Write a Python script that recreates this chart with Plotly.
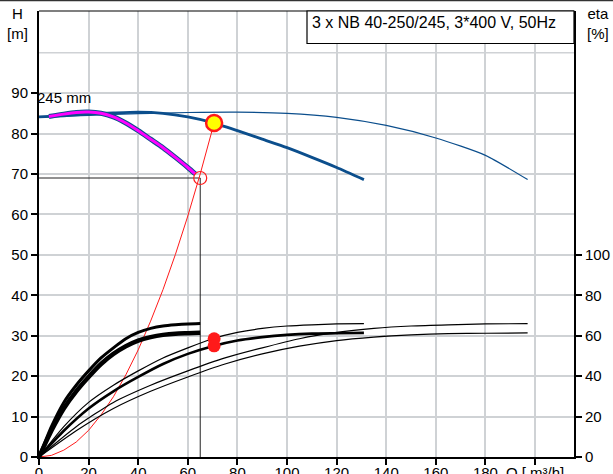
import plotly.graph_objects as go

# ---- pump head curves, Q [m3/h] vs H [m] ----
q_one = [4, 10, 15, 20, 25, 30, 35, 40, 45, 50, 55, 60, 63]
h_one = [84.2, 84.8, 85.2, 85.3, 85.0, 84.1, 82.6, 80.7, 78.6, 76.5, 74.1, 71.6, 70.0]

q_two = [0, 10, 20, 30, 40, 50, 60, 70, 80, 90, 100, 110, 120, 131]
h_two = [84.1, 84.4, 84.8, 85.1, 85.3, 85.0, 84.1, 82.7, 80.7, 78.6, 76.5, 74.1, 71.6, 68.6]

q_three = [0, 20, 40, 60, 80, 100, 120, 140, 160, 180, 197]
h_three = [84.1, 84.5, 84.9, 85.2, 85.3, 85.0, 84.0, 82.0, 78.9, 74.6, 68.6]

# ---- efficiency curves, Q [m3/h] vs eta [%] ----
q_eta_one = [0, 5, 10, 15, 20, 25, 30, 35, 40, 45, 50, 55, 60, 65]
eta_one_a = [0, 15, 27, 35.5, 42.6, 49, 54, 58.5, 61.6, 63.6, 64.8, 65.4, 65.8, 66.0]
eta_one_b = [0, 13, 24, 32.5, 39.6, 46, 51, 54.8, 57.6, 59.3, 60.4, 61.0, 61.2, 61.4]

q_eta_two = [0, 10, 20, 30, 40, 50, 60, 70, 80, 90, 100, 110, 120, 131]
eta_two_a = [0, 15, 27, 35.5, 42.6, 49, 54, 58.5, 61.6, 63.6, 64.8, 65.4, 65.8, 66.0]
eta_two_b = [0, 13, 24, 32.5, 39.6, 46, 51, 54.8, 57.6, 59.3, 60.4, 61.0, 61.2, 61.4]

q_eta_three = [0, 15, 30, 45, 60, 75, 90, 105, 120, 135, 150, 165, 180, 197]
eta_three_a = [0, 15, 27, 35.5, 42.6, 49, 54, 58.5, 61.6, 63.6, 64.8, 65.4, 65.8, 66.0]
eta_three_b = [0, 13, 24, 32.5, 39.6, 46, 51, 54.8, 57.6, 59.3, 60.4, 61.0, 61.2, 61.4]

# ---- system curve ----
q_sys = [0, 5, 10, 15, 20, 25, 30, 35, 40, 45, 50, 55, 60, 65, 70.6]
h_sys = [0, 0.4, 1.7, 3.7, 6.6, 10.4, 14.9, 20.3, 26.5, 33.6, 41.4, 50.1, 59.6, 70.0, 82.6]

# ---- duty points ----
duty_q = [70.6]
duty_h = [82.6]
duty_eta = [58.5, 55.0]
single_q = [65]
single_h = [69]

# ---- axis ticks ----
x_ticks = [0, 20, 40, 60, 80, 100, 120, 140, 160, 180, 200]
x_labels = ["0", "20", "40", "60", "80", "100", "120", "140", "160", "180", "Q [ m³/h]"]
h_ticks = [0, 10, 20, 30, 40, 50, 60, 70, 80, 90]
eta_ticks = [0, 20, 40, 60, 80, 100]

title_text = "3 x NB 40-250/245, 3*400 V, 50Hz"
impeller_text = "245 mm"

X_MAX = 215.7
H_MAX = 110.3

FONT = "Liberation Sans, Arial, sans-serif"
BLUE = "#0b4e8c"
GRID = "#cfd2d5"

PLOT_W = 535
PLOT_H = 446

fig = go.Figure()

def eta_line(q, e, w):
    fig.add_trace(go.Scatter(x=q, y=e, yaxis="y2", mode="lines",
                             line=dict(color="black", width=w, shape="spline", smoothing=0.6),
                             hoverinfo="skip"))

eta_line(q_eta_three, eta_three_a, 1.2)
eta_line(q_eta_three, eta_three_b, 1.2)
eta_line(q_eta_two, eta_two_a, 1.2)
eta_line(q_eta_two, eta_two_b, 2.6)
eta_line(q_eta_one, eta_one_a, 3)
eta_line(q_eta_one, eta_one_b, 4.5)

# head curves
fig.add_trace(go.Scatter(x=q_three, y=h_three, mode="lines",
                         line=dict(color=BLUE, width=1.2, shape="spline", smoothing=0.6)))
fig.add_trace(go.Scatter(x=q_two, y=h_two, mode="lines",
                         line=dict(color=BLUE, width=2.8, shape="spline", smoothing=0.6)))
fig.add_trace(go.Scatter(x=q_one, y=h_one, mode="lines",
                         line=dict(color=BLUE, width=5, shape="spline", smoothing=0.6)))
fig.add_trace(go.Scatter(x=q_one, y=h_one, mode="lines",
                         line=dict(color="#ff00ff", width=3, shape="spline", smoothing=0.6)))

# guide lines to the single-pump point
fig.add_trace(go.Scatter(x=[0, single_q[0], single_q[0]], y=[single_h[0], single_h[0], 0],
                         mode="lines", line=dict(color="#222222", width=1)))

# system curve
fig.add_trace(go.Scatter(x=q_sys, y=h_sys, mode="lines",
                         line=dict(color="#ff1a1a", width=1)))

# duty points
fig.add_trace(go.Scatter(x=single_q, y=single_h, mode="markers",
                         marker=dict(symbol="circle-open", size=13, color="#ff1a1a",
                                     line=dict(width=1.2, color="#ff1a1a"))))
fig.add_trace(go.Scatter(x=duty_q, y=duty_h, mode="markers",
                         marker=dict(symbol="circle", size=16, color="#ffff00",
                                     line=dict(width=2.5, color="#ff1a1a"))))
fig.add_trace(go.Scatter(x=duty_q * len(duty_eta), y=duty_eta, yaxis="y2", mode="markers",
                         marker=dict(symbol="circle", size=13, color="#ff1a1a",
                                     line=dict(width=0))))

axis_common = dict(
    showline=True, linecolor="black", linewidth=2,
    ticks="outside", ticklen=6, tickwidth=2, tickcolor="black",
    tickfont=dict(family=FONT, size=15, color="black"),
    zeroline=False, fixedrange=True, automargin=False,
)

fig.update_layout(
    width=613, height=474, autosize=False,
    margin=dict(l=39, r=39, t=11, b=17, pad=0),
    paper_bgcolor="white", plot_bgcolor="white",
    showlegend=False,
    xaxis=dict(range=[0, X_MAX], tickmode="array", tickvals=x_ticks, ticktext=x_labels,
               showgrid=True, gridcolor=GRID, gridwidth=1.5, ticklabelstandoff=-5,
               **axis_common),
    yaxis=dict(range=[0, H_MAX], tickmode="array", tickvals=h_ticks,
               showgrid=True, gridcolor=GRID, gridwidth=1.5, **axis_common),
    yaxis2=dict(range=[0, 2 * H_MAX], overlaying="y", side="right", anchor="x",
                tickmode="array", tickvals=eta_ticks, showgrid=False, **axis_common),
    shapes=[
        # grid line at H = 100 (no label there)
        dict(type="line", xref="paper", yref="y", x0=0, x1=1, y0=100, y1=100,
             line=dict(color=GRID, width=1.5), layer="below"),
        # top frame of the plot area
        dict(type="line", xref="paper", yref="paper", x0=0, x1=1, y0=1, y1=1,
             line=dict(color="black", width=1.2)),
        # rule along the top edge of the page
        dict(type="line", xref="paper", yref="paper",
             x0=-39 / PLOT_W, x1=1 + 39 / PLOT_W,
             y0=1 + 10.5 / PLOT_H, y1=1 + 10.5 / PLOT_H,
             line=dict(color="#333333", width=1.5)),
        # title box
        dict(type="rect", xref="paper", yref="paper",
             x0=(307 - 39) / PLOT_W, x1=1, y0=1 - 32.5 / PLOT_H, y1=1,
             line=dict(color="black", width=1.2), fillcolor="white", layer="above"),
    ],
    annotations=[
        dict(text=title_text, xref="paper", yref="paper",
             x=(310 - 39) / PLOT_W, y=1 - 12 / PLOT_H, xanchor="left", yanchor="middle",
             showarrow=False, font=dict(family=FONT, size=16, color="black")),
        dict(text=impeller_text, xref="paper", yref="y", x=-4 / PLOT_W, y=88.8,
             xanchor="left", yanchor="middle", showarrow=False,
             font=dict(family=FONT, size=15, color="black")),
        dict(text="H<br>[m]", xref="paper", yref="paper", x=-22 / PLOT_W, y=1 + 8 / PLOT_H,
             xanchor="center", yanchor="top", showarrow=False, align="center",
             font=dict(family=FONT, size=15, color="black")),
        dict(text="eta<br>[%]", xref="paper", yref="paper", x=1 + 24 / PLOT_W, y=1 + 8 / PLOT_H,
             xanchor="center", yanchor="top", showarrow=False, align="center",
             font=dict(family=FONT, size=15, color="black")),
    ],
)

fig.write_html("out.html", include_plotlyjs=True, config={"displayModeBar": False})
